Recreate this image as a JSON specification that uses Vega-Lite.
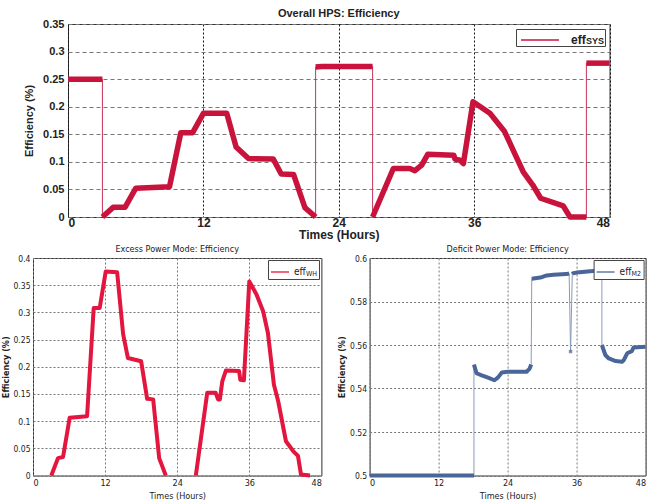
{
  "$schema": "https://vega.github.io/schema/vega-lite/v6.json",
  "padding": {"left": 1, "top": 7, "right": 0, "bottom": 0},
  "background": "white",
  "config": {
    "view": {"stroke": "#333", "strokeWidth": 1},
    "axis": {"domain": false, "ticks": false, "labelColor": "#222", "titleColor": "#222", "labelOverlap": false},
    "legend": {"strokeColor": "#444", "fillColor": "white"}
  },
  "datasets": {
    "top": [
      {"i": 1, "hour": 0, "value": 0.25, "seg": "a", "series": "eff"},
      {"i": 2, "hour": 3.05, "value": 0.25, "seg": "a", "series": "eff"},
      {"i": 3, "hour": 3.05, "value": 0, "seg": "b", "series": "eff"},
      {"i": 4, "hour": 4.0, "value": 0.0175, "seg": "b", "series": "eff"},
      {"i": 5, "hour": 5.05, "value": 0.0175, "seg": "b", "series": "eff"},
      {"i": 6, "hour": 6.0, "value": 0.052, "seg": "b", "series": "eff"},
      {"i": 7, "hour": 9.0, "value": 0.055, "seg": "b", "series": "eff"},
      {"i": 8, "hour": 10.0, "value": 0.153, "seg": "b", "series": "eff"},
      {"i": 9, "hour": 11.05, "value": 0.153, "seg": "b", "series": "eff"},
      {"i": 10, "hour": 12.0, "value": 0.188, "seg": "b", "series": "eff"},
      {"i": 11, "hour": 14.07, "value": 0.188, "seg": "b", "series": "eff"},
      {"i": 12, "hour": 14.9, "value": 0.127, "seg": "b", "series": "eff"},
      {"i": 13, "hour": 16.0, "value": 0.106, "seg": "b", "series": "eff"},
      {"i": 14, "hour": 18.2, "value": 0.105, "seg": "b", "series": "eff"},
      {"i": 15, "hour": 18.9, "value": 0.078, "seg": "b", "series": "eff"},
      {"i": 16, "hour": 20.0, "value": 0.077, "seg": "b", "series": "eff"},
      {"i": 17, "hour": 21.0, "value": 0.017, "seg": "b", "series": "eff"},
      {"i": 18, "hour": 21.95, "value": 0, "seg": "b", "series": "eff"},
      {"i": 19, "hour": 21.95, "value": 0.272, "seg": "c", "series": "eff"},
      {"i": 20, "hour": 22.5, "value": 0.273, "seg": "c", "series": "eff"},
      {"i": 21, "hour": 27.0, "value": 0.273, "seg": "c", "series": "eff"},
      {"i": 22, "hour": 27.0, "value": 0, "seg": "d", "series": "eff"},
      {"i": 23, "hour": 28.84, "value": 0.088, "seg": "d", "series": "eff"},
      {"i": 24, "hour": 30.3, "value": 0.088, "seg": "d", "series": "eff"},
      {"i": 25, "hour": 30.75, "value": 0.084, "seg": "d", "series": "eff"},
      {"i": 26, "hour": 31.35, "value": 0.094, "seg": "d", "series": "eff"},
      {"i": 27, "hour": 31.9, "value": 0.114, "seg": "d", "series": "eff"},
      {"i": 28, "hour": 34.2, "value": 0.112, "seg": "d", "series": "eff"},
      {"i": 29, "hour": 34.3, "value": 0.105, "seg": "d", "series": "eff"},
      {"i": 30, "hour": 34.75, "value": 0.103, "seg": "d", "series": "eff"},
      {"i": 31, "hour": 35.05, "value": 0.097, "seg": "d", "series": "eff"},
      {"i": 32, "hour": 35.9, "value": 0.209, "seg": "d", "series": "eff"},
      {"i": 33, "hour": 37.4, "value": 0.188, "seg": "d", "series": "eff"},
      {"i": 34, "hour": 38.7, "value": 0.155, "seg": "d", "series": "eff"},
      {"i": 35, "hour": 39.6, "value": 0.115, "seg": "d", "series": "eff"},
      {"i": 36, "hour": 40.35, "value": 0.082, "seg": "d", "series": "eff"},
      {"i": 37, "hour": 41.2, "value": 0.058, "seg": "d", "series": "eff"},
      {"i": 38, "hour": 41.9, "value": 0.034, "seg": "d", "series": "eff"},
      {"i": 39, "hour": 43.9, "value": 0.02, "seg": "d", "series": "eff"},
      {"i": 40, "hour": 44.5, "value": 0, "seg": "d", "series": "eff"},
      {"i": 41, "hour": 45.95, "value": 0, "seg": "d", "series": "eff"},
      {"i": 42, "hour": 45.95, "value": 0.279, "seg": "e", "series": "eff"},
      {"i": 43, "hour": 48, "value": 0.279, "seg": "e", "series": "eff"}
    ],
    "wh": [
      {"i": 1, "hour": 3.05, "value": 0, "seg": "a", "series": "eff"},
      {"i": 2, "hour": 4.16, "value": 0.032, "seg": "a", "series": "eff"},
      {"i": 3, "hour": 5.0, "value": 0.034, "seg": "a", "series": "eff"},
      {"i": 4, "hour": 6.1, "value": 0.106, "seg": "a", "series": "eff"},
      {"i": 5, "hour": 9.0, "value": 0.109, "seg": "a", "series": "eff"},
      {"i": 6, "hour": 10.1, "value": 0.308, "seg": "a", "series": "eff"},
      {"i": 7, "hour": 11.1, "value": 0.308, "seg": "a", "series": "eff"},
      {"i": 8, "hour": 12.1, "value": 0.375, "seg": "a", "series": "eff"},
      {"i": 9, "hour": 14.0, "value": 0.374, "seg": "a", "series": "eff"},
      {"i": 10, "hour": 15.0, "value": 0.26, "seg": "a", "series": "eff"},
      {"i": 11, "hour": 15.8, "value": 0.216, "seg": "a", "series": "eff"},
      {"i": 12, "hour": 18.0, "value": 0.21, "seg": "a", "series": "eff"},
      {"i": 13, "hour": 19.0, "value": 0.141, "seg": "a", "series": "eff"},
      {"i": 14, "hour": 20.0, "value": 0.14, "seg": "a", "series": "eff"},
      {"i": 15, "hour": 21.0, "value": 0.032, "seg": "a", "series": "eff"},
      {"i": 16, "hour": 22.1, "value": 0, "seg": "a", "series": "eff"},
      {"i": 17, "hour": 27.1, "value": 0, "seg": "b", "series": "eff"},
      {"i": 18, "hour": 29.0, "value": 0.152, "seg": "b", "series": "eff"},
      {"i": 19, "hour": 30.4, "value": 0.152, "seg": "b", "series": "eff"},
      {"i": 20, "hour": 30.8, "value": 0.14, "seg": "b", "series": "eff"},
      {"i": 21, "hour": 31.1, "value": 0.14, "seg": "b", "series": "eff"},
      {"i": 22, "hour": 31.5, "value": 0.173, "seg": "b", "series": "eff"},
      {"i": 23, "hour": 32.1, "value": 0.193, "seg": "b", "series": "eff"},
      {"i": 24, "hour": 34.3, "value": 0.192, "seg": "b", "series": "eff"},
      {"i": 25, "hour": 34.5, "value": 0.176, "seg": "b", "series": "eff"},
      {"i": 26, "hour": 35.1, "value": 0.175, "seg": "b", "series": "eff"},
      {"i": 27, "hour": 36.0, "value": 0.357, "seg": "b", "series": "eff"},
      {"i": 28, "hour": 37.2, "value": 0.333, "seg": "b", "series": "eff"},
      {"i": 29, "hour": 38.3, "value": 0.302, "seg": "b", "series": "eff"},
      {"i": 30, "hour": 39.1, "value": 0.262, "seg": "b", "series": "eff"},
      {"i": 31, "hour": 40.1, "value": 0.167, "seg": "b", "series": "eff"},
      {"i": 32, "hour": 40.8, "value": 0.137, "seg": "b", "series": "eff"},
      {"i": 33, "hour": 42.1, "value": 0.063, "seg": "b", "series": "eff"},
      {"i": 34, "hour": 43.3, "value": 0.045, "seg": "b", "series": "eff"},
      {"i": 35, "hour": 44.1, "value": 0.036, "seg": "b", "series": "eff"},
      {"i": 36, "hour": 44.6, "value": 0.002, "seg": "b", "series": "eff"},
      {"i": 37, "hour": 46.1, "value": 0, "seg": "b", "series": "eff"}
    ],
    "m2": [
      {"i": 1, "hour": 0, "value": 0.5, "seg": "a", "series": "eff"},
      {"i": 2, "hour": 18.15, "value": 0.5, "seg": "a", "series": "eff"},
      {"i": 3, "hour": 18.15, "value": 0.551, "seg": "b", "series": "eff"},
      {"i": 4, "hour": 18.6, "value": 0.547, "seg": "b", "series": "eff"},
      {"i": 5, "hour": 19.5, "value": 0.546, "seg": "b", "series": "eff"},
      {"i": 6, "hour": 20.6, "value": 0.545, "seg": "b", "series": "eff"},
      {"i": 7, "hour": 21.7, "value": 0.5438, "seg": "b", "series": "eff"},
      {"i": 8, "hour": 22.3, "value": 0.545, "seg": "b", "series": "eff"},
      {"i": 9, "hour": 23.0, "value": 0.5474, "seg": "b", "series": "eff"},
      {"i": 10, "hour": 24.0, "value": 0.5477, "seg": "b", "series": "eff"},
      {"i": 11, "hour": 27.3, "value": 0.5477, "seg": "b", "series": "eff"},
      {"i": 12, "hour": 27.8, "value": 0.549, "seg": "b", "series": "eff"},
      {"i": 13, "hour": 28.1, "value": 0.551, "seg": "b", "series": "eff"},
      {"i": 14, "hour": 28.2, "value": 0.5905, "seg": "c", "series": "eff"},
      {"i": 15, "hour": 29.7, "value": 0.591, "seg": "c", "series": "eff"},
      {"i": 16, "hour": 30.8, "value": 0.592, "seg": "c", "series": "eff"},
      {"i": 17, "hour": 32.0, "value": 0.5923, "seg": "c", "series": "eff"},
      {"i": 18, "hour": 34.2, "value": 0.5926, "seg": "c", "series": "eff"},
      {"i": 19, "hour": 34.7, "value": 0.5929, "seg": "c", "series": "eff"},
      {"i": 20, "hour": 34.95, "value": 0.557, "seg": "d", "series": "eff"},
      {"i": 21, "hour": 35.25, "value": 0.5926, "seg": "e", "series": "eff"},
      {"i": 22, "hour": 35.4, "value": 0.593, "seg": "e", "series": "eff"},
      {"i": 23, "hour": 36.5, "value": 0.5935, "seg": "e", "series": "eff"},
      {"i": 24, "hour": 38.8, "value": 0.594, "seg": "e", "series": "eff"},
      {"i": 25, "hour": 40.4, "value": 0.5945, "seg": "e", "series": "eff"},
      {"i": 26, "hour": 40.4, "value": 0.56, "seg": "f", "series": "eff"},
      {"i": 27, "hour": 41.0, "value": 0.5554, "seg": "f", "series": "eff"},
      {"i": 28, "hour": 41.6, "value": 0.5538, "seg": "f", "series": "eff"},
      {"i": 29, "hour": 42.8, "value": 0.5526, "seg": "f", "series": "eff"},
      {"i": 30, "hour": 43.9, "value": 0.5523, "seg": "f", "series": "eff"},
      {"i": 31, "hour": 44.2, "value": 0.553, "seg": "f", "series": "eff"},
      {"i": 32, "hour": 44.8, "value": 0.5562, "seg": "f", "series": "eff"},
      {"i": 33, "hour": 45.6, "value": 0.5572, "seg": "f", "series": "eff"},
      {"i": 34, "hour": 45.9, "value": 0.5588, "seg": "f", "series": "eff"},
      {"i": 35, "hour": 48, "value": 0.5592, "seg": "f", "series": "eff"}
    ]
  },
  "vconcat": [
    {
      "hconcat": [
        {
          "width": 34.7,
          "height": 193,
          "view": {"stroke": null},
          "data": {"values": [{"k": 1}]},
          "mark": {"type": "point", "opacity": 0},
          "encoding": {}
        },
        {
          "width": 541.5,
          "height": 193,
          "title": {"text": "Overall HPS: Efficiency", "frame": "group", "font": "Liberation Sans", "fontSize": 11, "fontWeight": "bold", "color": "#222", "offset": -1},
          "data": {"name": "top"},
          "encoding": {
            "x": {"field": "hour", "type": "quantitative", "scale": {"domain": [0, 48], "nice": false},
              "axis": {"values": [0, 12, 24, 36, 48], "title": "Times (Hours)", "labelOverlap": false, "labelFont": "Liberation Sans", "labelFontSize": 12, "labelFontWeight": "bold", "labelPadding": 0, "titleFont": "Liberation Sans", "titleFontSize": 12, "titleFontWeight": "bold", "titlePadding": 1,
                "grid": true, "gridColor": "#111", "gridDash": [2, 2], "gridWidth": 1}},
            "y": {"field": "value", "type": "quantitative", "scale": {"domain": [0, 0.35], "nice": false},
              "axis": {"values": [0, 0.05, 0.1, 0.15, 0.2, 0.25, 0.3, 0.35], "format": ".2~f", "labelOverlap": false, "title": "Efficiency (%)", "labelFont": "Liberation Sans", "labelFontSize": 11, "labelFontWeight": "bold", "labelPadding": 4, "titleFont": "Liberation Sans", "titleFontSize": 11, "titleFontWeight": "bold", "titlePadding": 8,
                "grid": true, "gridColor": "#777", "gridDash": [4, 3], "gridWidth": 1}},
            "order": {"field": "i", "type": "quantitative"}
          },
          "layer": [
            {
              "mark": {"type": "line", "color": "#c8325a", "strokeWidth": 1}
            },
            {
              "mark": {"type": "line", "strokeWidth": 5.5, "strokeJoin": "round"},
              "encoding": {
                "detail": {"field": "seg"},
                "color": {"field": "series", "type": "nominal", "scale": {"range": ["#c8143c"]},
                  "legend": {"title": "SYS", "titleOrient": "right", "titleAnchor": "end", "titleBaseline": "bottom", "orient": "top-right", "offset": 5,
                    "symbolType": "M-1.9,0H1.9", "symbolSize": 400, "symbolOffset": 13, "symbolStrokeWidth": 1.3, "symbolStrokeColor": "#c8143c", "labelOffset": 20,
                    "labelFont": "Liberation Sans", "labelFontSize": 12, "labelFontWeight": "bold", "labelColor": "#222",
                    "titleFont": "Liberation Sans", "titleFontSize": 9, "titleFontWeight": "bold", "titleColor": "#222", "titlePadding": 0, "padding": 0}}
              }
            }
          ]
        }
      ],
      "spacing": 0,
      "bounds": "flush",
      "resolve": {"scale": {"color": "independent", "x": "independent", "y": "independent"}, "legend": {"color": "independent"}}
    },
    {
      "hconcat": [
        {
          "width": 288.4,
          "height": 217.5,
          "title": {"text": "Excess Power Mode: Efficiency", "font": "DejaVu Sans Condensed", "fontSize": 9, "fontWeight": "normal", "color": "#222", "offset": 0},
          "data": {"name": "wh"},
          "mark": {"type": "line", "strokeWidth": 4, "strokeJoin": "round"},
          "encoding": {
            "x": {"field": "hour", "type": "quantitative", "scale": {"domain": [0, 48], "nice": false},
              "axis": {"values": [0, 12, 24, 36, 48], "title": "Times (Hours)", "labelFont": "DejaVu Sans Condensed", "labelFontSize": 9, "labelPadding": 3, "titleFont": "DejaVu Sans Condensed", "titleFontSize": 9, "titleFontWeight": "normal", "titlePadding": 4,
                "grid": true, "gridColor": "#777", "gridDash": [2, 2]}},
            "y": {"field": "value", "type": "quantitative", "scale": {"domain": [0, 0.4], "nice": false},
              "axis": {"values": [0, 0.05, 0.1, 0.15, 0.2, 0.25, 0.3, 0.35, 0.4], "format": ".2~f", "title": "Efficiency (%)", "labelFont": "DejaVu Sans Condensed", "labelFontSize": 8.5, "labelPadding": 3, "titleFont": "DejaVu Sans Condensed", "titleFontSize": 9, "titleFontWeight": "bold", "titlePadding": 2,
                "grid": true, "gridColor": "#777", "gridDash": [2, 2]}},
            "detail": {"field": "seg"},
            "order": {"field": "i", "type": "quantitative"},
            "color": {"field": "series", "type": "nominal", "scale": {"range": ["#e2163f"]},
              "legend": {"title": "WH", "titleOrient": "right", "titleAnchor": "end", "titleBaseline": "bottom", "orient": "top-right", "offset": 2,
                "symbolType": "M-1,0H1", "symbolSize": 324, "symbolStrokeWidth": 1.3, "symbolStrokeColor": "#e05070",
                "labelFont": "DejaVu Sans Condensed", "labelFontSize": 10, "labelColor": "#222",
                "titleFont": "DejaVu Sans Condensed", "titleFontSize": 7, "titleFontWeight": "normal", "titleColor": "#222", "titlePadding": 0, "padding": 2}}
          }
        },
        {
          "width": 276,
          "height": 217.5,
          "title": {"text": "Deficit Power Mode: Efficiency", "font": "DejaVu Sans Condensed", "fontSize": 9, "fontWeight": "normal", "color": "#222", "offset": 0},
          "data": {"name": "m2"},
          "layer": [
            {
              "mark": {"type": "line", "color": "#8a9ab8", "strokeWidth": 1},
              "encoding": {
                "x": {"field": "hour", "type": "quantitative", "scale": {"domain": [0, 48], "nice": false},
                  "axis": {"values": [0, 12, 24, 36, 48], "labelFlush": true, "title": "Times (Hours)", "labelFont": "DejaVu Sans Condensed", "labelFontSize": 9, "labelPadding": 3, "titleFont": "DejaVu Sans Condensed", "titleFontSize": 9, "titleFontWeight": "normal", "titlePadding": 4,
                    "grid": true, "gridColor": "#777", "gridDash": [2, 2]}},
                "y": {"field": "value", "type": "quantitative", "scale": {"domain": [0.5, 0.6], "nice": false},
                  "axis": {"values": [0.5, 0.51, 0.52, 0.53, 0.54, 0.55, 0.56, 0.57, 0.58, 0.59, 0.6], "format": ".2~f", "title": "Efficiency (%)", "labelFont": "DejaVu Sans Condensed", "labelFontSize": 8.5, "labelPadding": 3, "titleFont": "DejaVu Sans Condensed", "titleFontSize": 9, "titleFontWeight": "bold", "titlePadding": 3,
                    "grid": true, "gridColor": "#777", "gridDash": [2, 2]}},
                "order": {"field": "i", "type": "quantitative"}
              }
            },
            {
              "mark": {"type": "line", "strokeWidth": 4, "strokeJoin": "round"},
              "encoding": {
                "x": {"field": "hour", "type": "quantitative"},
                "y": {"field": "value", "type": "quantitative"},
                "detail": {"field": "seg"},
                "order": {"field": "i", "type": "quantitative"},
                "color": {"field": "series", "type": "nominal", "scale": {"range": ["#4a6699"]},
                  "legend": {"title": "M2", "titleOrient": "right", "titleAnchor": "end", "titleBaseline": "bottom", "orient": "top-right", "offset": 2,
                    "symbolType": "M-1,0H1", "symbolSize": 324, "symbolStrokeWidth": 1.3, "symbolStrokeColor": "#8a9ab8",
                    "labelFont": "DejaVu Sans Condensed", "labelFontSize": 10, "labelColor": "#222",
                    "titleFont": "DejaVu Sans Condensed", "titleFontSize": 7, "titleFontWeight": "normal", "titleColor": "#222", "titlePadding": 0, "padding": 2}}
              }
            },
            {
              "mark": {"type": "point", "shape": "square", "size": 12, "filled": true, "color": "#4a6699"},
              "transform": [{"filter": "datum.seg == 'd'"}],
              "encoding": {
                "x": {"field": "hour", "type": "quantitative"},
                "y": {"field": "value", "type": "quantitative"}
              }
            }
          ]
        }
      ],
      "spacing": 47.6,
      "bounds": "flush",
      "resolve": {"scale": {"color": "independent", "x": "independent", "y": "independent"}, "legend": {"color": "independent"}}
    }
  ],
  "spacing": 3,
  "resolve": {"scale": {"color": "independent", "x": "independent", "y": "independent"}, "legend": {"color": "independent"}}
}
